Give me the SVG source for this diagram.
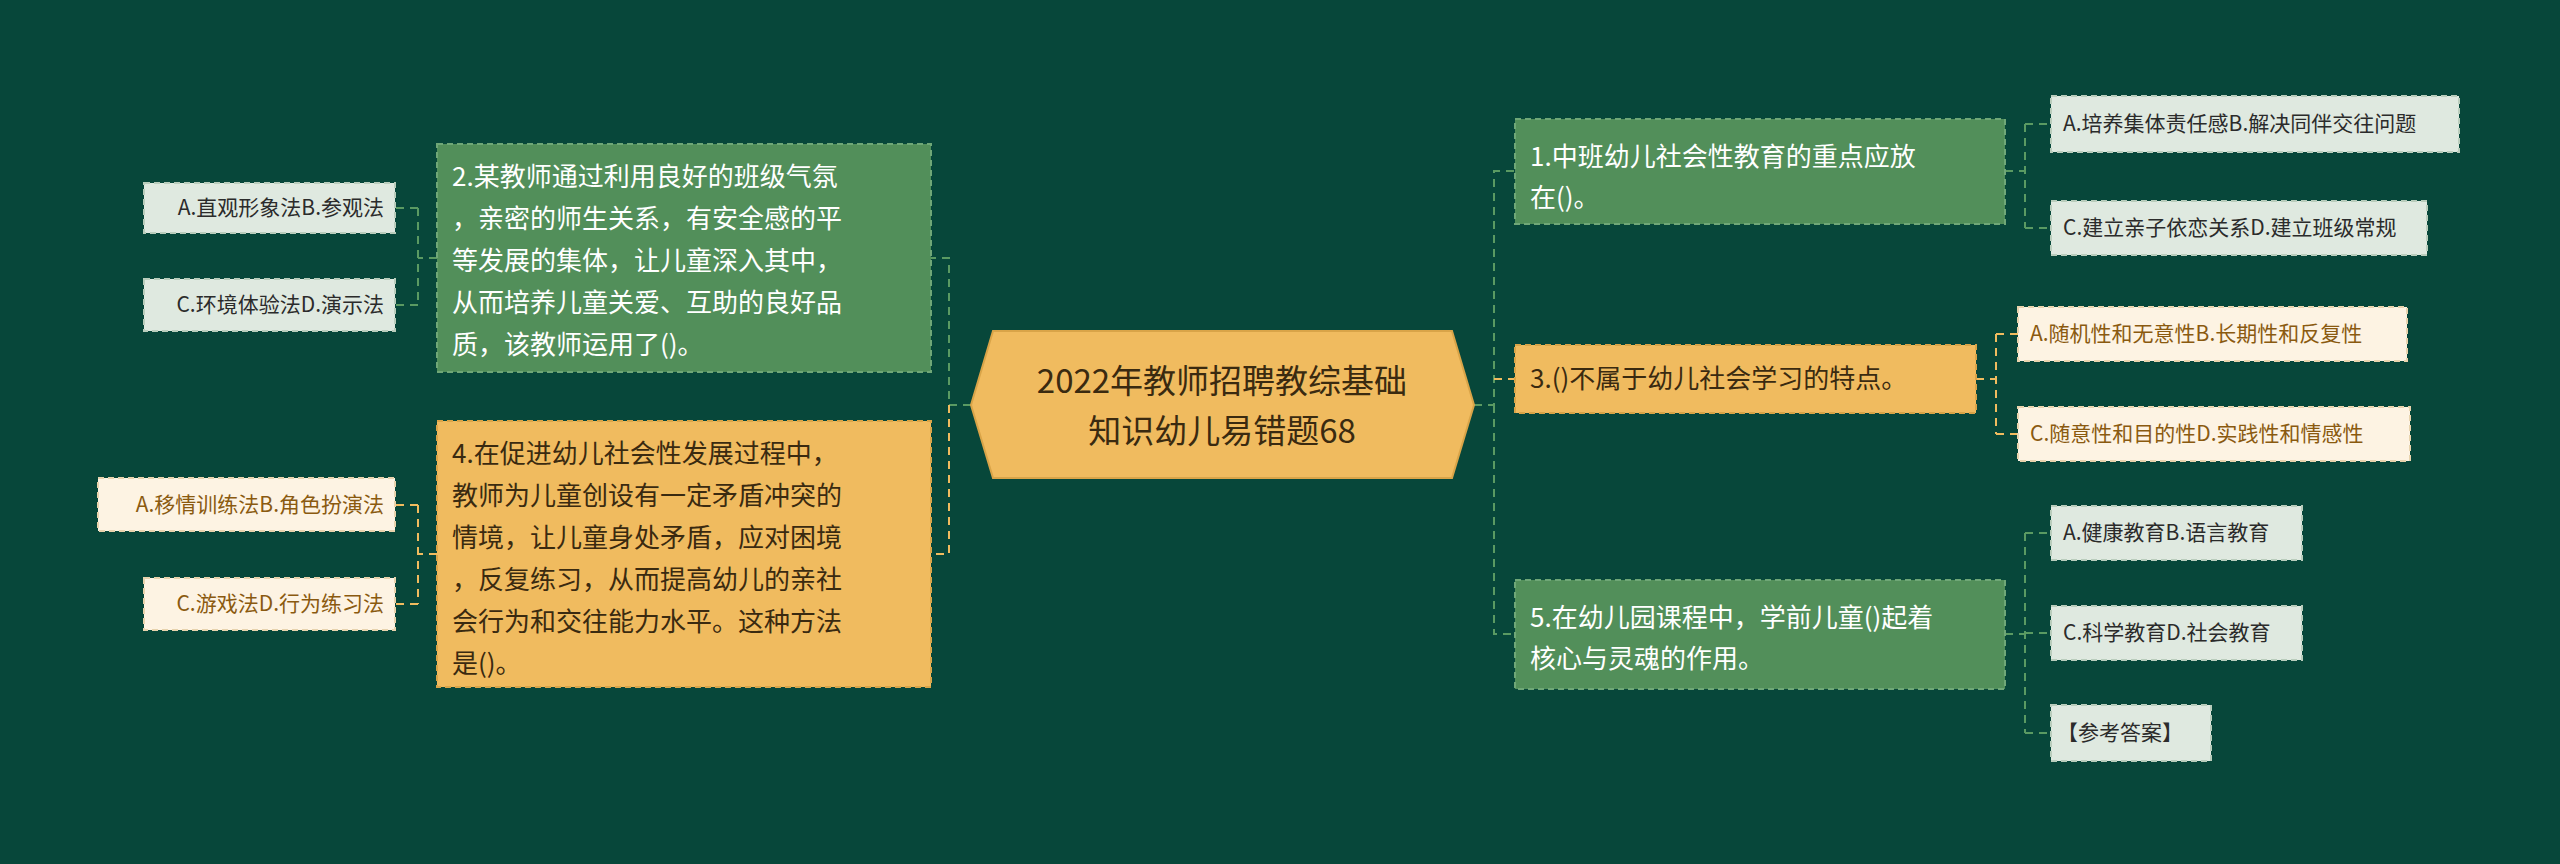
<svg xmlns="http://www.w3.org/2000/svg" width="2560" height="864" viewBox="0 0 2560 864">
<style>
text{font-family:"Noto Sans CJK SC","Liberation Sans",sans-serif}
.g{fill:#528f5a;stroke:#6fa777;stroke-width:2;stroke-dasharray:6 4}
.o{fill:#f0bb5f;stroke:#d9a448;stroke-width:2;stroke-dasharray:6 4}
.lg{fill:#dfe9e0;stroke:#b9cdbc;stroke-width:2;stroke-dasharray:6 4}
.lo{fill:#fdf3e3;stroke:#e8d3ad;stroke-width:2;stroke-dasharray:6 4}
.tw{fill:#ffffff;font-size:26px}
.td{fill:#3a2a10;font-size:26px}
.tl{fill:#2b2b2b;font-size:21px}
.tlo{fill:#8a5a10;font-size:21px}
.cg{fill:none;stroke:#5a9a62;stroke-width:2;stroke-dasharray:8 6}
.co{fill:none;stroke:#f0bb5f;stroke-width:2;stroke-dasharray:8 6}
</style>
<rect width="2560" height="864" fill="#07473a"/>
<g id="connectors">
<path class="cg" d="M971 405H949V258H931"/>
<path class="co" d="M949 405V554H931"/>
<path class="cg" d="M437 258H418M418 208V305M418 208H395M418 305H395"/>
<path class="co" d="M437 554H418M418 505V604M418 505H395M418 604H395"/>
<path class="cg" d="M1474 405H1494V171H1515M1494 405V634H1515"/>
<path class="co" d="M1494 379H1515"/>
<path class="cg" d="M2005 171H2025M2025 124V228M2025 124H2051M2025 228H2051"/>
<path class="co" d="M1976 379H1996M1996 334V434M1996 334H2018M1996 434H2018"/>
<path class="cg" d="M2005 634H2025M2025 533V733M2025 533H2051M2025 633H2051M2025 733H2051"/>
</g>
<g id="center">
<polygon points="993,331 1452,331 1474,405 1452,478 993,478 971,405" fill="#f0bb5f" stroke="#d9a448" stroke-width="2"/>
<text x="1222" y="393" text-anchor="middle" font-size="33" fill="#3a2a10">2022年教师招聘教综基础</text>
<text x="1222" y="443" text-anchor="middle" font-size="33" fill="#3a2a10">知识幼儿易错题68</text>
</g>
<g id="n2"><rect class="g" x="437" y="144" width="494" height="228"/>
<text class="tw"><tspan x="452" y="186">2.某教师通过利用良好的班级气氛</tspan><tspan x="452" y="228">，亲密的师生关系，有安全感的平</tspan><tspan x="452" y="270">等发展的集体，让儿童深入其中，</tspan><tspan x="452" y="312">从而培养儿童关爱、互助的良好品</tspan><tspan x="452" y="354">质，该教师运用了()。</tspan></text></g>
<g id="n4"><rect class="o" x="437" y="421" width="494" height="266"/>
<text class="td"><tspan x="452" y="463">4.在促进幼儿社会性发展过程中，</tspan><tspan x="452" y="505">教师为儿童创设有一定矛盾冲突的</tspan><tspan x="452" y="547">情境，让儿童身处矛盾，应对困境</tspan><tspan x="452" y="589">，反复练习，从而提高幼儿的亲社</tspan><tspan x="452" y="631">会行为和交往能力水平。这种方法</tspan><tspan x="452" y="673">是()。</tspan></text></g>
<g id="l2a"><rect class="lg" x="144" y="183" width="251" height="50"/><text class="tl" x="384" y="215" text-anchor="end">A.直观形象法B.参观法</text></g>
<g id="l2c"><rect class="lg" x="144" y="279" width="251" height="52"/><text class="tl" x="384" y="312" text-anchor="end">C.环境体验法D.演示法</text></g>
<g id="l4a"><rect class="lo" x="98" y="478" width="297" height="53"/><text class="tlo" x="384" y="512" text-anchor="end">A.移情训练法B.角色扮演法</text></g>
<g id="l4c"><rect class="lo" x="144" y="578" width="251" height="52"/><text class="tlo" x="384" y="611" text-anchor="end">C.游戏法D.行为练习法</text></g>
<g id="n1"><rect class="g" x="1515" y="119" width="490" height="105"/>
<text class="tw"><tspan x="1530" y="166">1.中班幼儿社会性教育的重点应放</tspan><tspan x="1530" y="207">在()。</tspan></text></g>
<g id="n3"><rect class="o" x="1515" y="345" width="461" height="68"/>
<text class="td" x="1530" y="388">3.()不属于幼儿社会学习的特点。</text></g>
<g id="n5"><rect class="g" x="1515" y="580" width="490" height="109"/>
<text class="tw"><tspan x="1530" y="627">5.在幼儿园课程中，学前儿童()起着</tspan><tspan x="1530" y="668">核心与灵魂的作用。</tspan></text></g>
<g id="l1a"><rect class="lg" x="2051" y="96" width="408" height="56"/><text class="tl" x="2063" y="131">A.培养集体责任感B.解决同伴交往问题</text></g>
<g id="l1c"><rect class="lg" x="2051" y="201" width="376" height="54"/><text class="tl" x="2063" y="235">C.建立亲子依恋关系D.建立班级常规</text></g>
<g id="l3a"><rect class="lo" x="2018" y="307" width="389" height="54"/><text class="tlo" x="2030" y="341">A.随机性和无意性B.长期性和反复性</text></g>
<g id="l3c"><rect class="lo" x="2018" y="407" width="392" height="54"/><text class="tlo" x="2030" y="441">C.随意性和目的性D.实践性和情感性</text></g>
<g id="l5a"><rect class="lg" x="2051" y="506" width="251" height="54"/><text class="tl" x="2063" y="540">A.健康教育B.语言教育</text></g>
<g id="l5c"><rect class="lg" x="2051" y="606" width="251" height="54"/><text class="tl" x="2063" y="640">C.科学教育D.社会教育</text></g>
<g id="l5k"><rect class="lg" x="2051" y="705" width="160" height="56"/><text class="tl" x="2057" y="740">【参考答案】</text></g>
</svg>
